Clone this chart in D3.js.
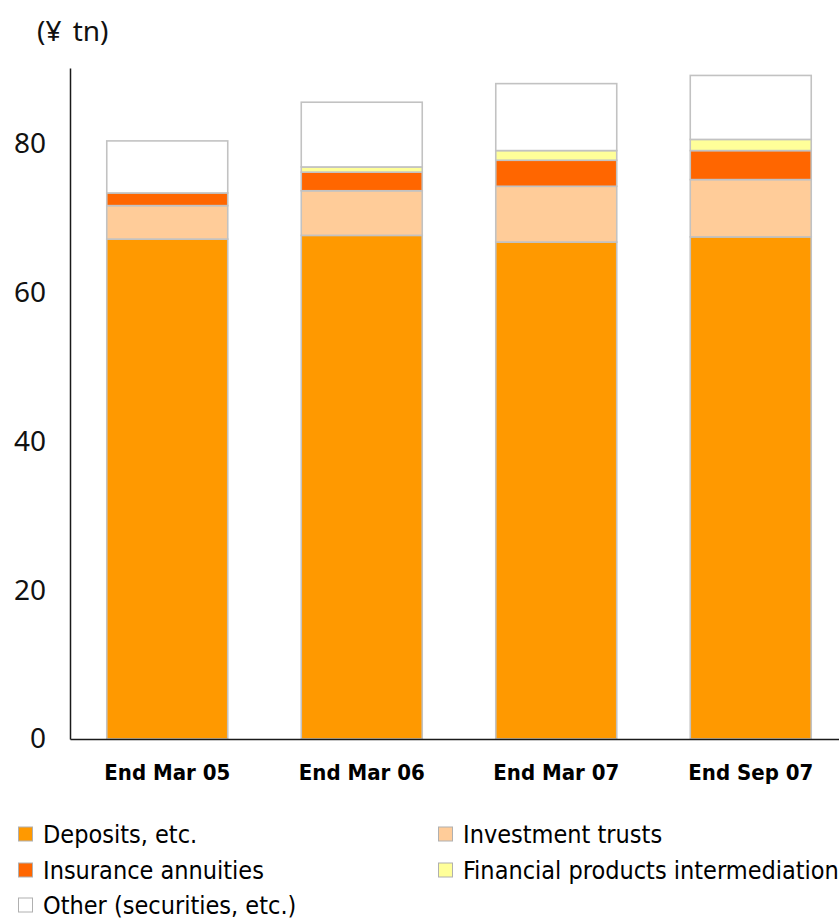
<!DOCTYPE html>
<html>
<head>
<meta charset="utf-8">
<script src="https://cdn.jsdelivr.net/npm/d3@7"></script>
<style>
  html, body { margin: 0; padding: 0; background: #fff; }
  svg { display: block; }
</style>
</head>
<body>
<svg id="chart" width="839" height="920"></svg>
<script>
// Balances by period, ¥ trillion
const categories = ["End Mar 05", "End Mar 06", "End Mar 07", "End Sep 07"];
const deposits = [67.2, 67.7, 66.8, 67.5];
const investmentTrusts = [4.5, 6.0, 7.5, 7.7];
const insuranceAnnuities = [1.7, 2.5, 3.5, 3.9];
const financialProducts = [0, 0.7, 1.3, 1.5];
const other = [7.0, 8.7, 9.0, 8.6];

const seriesNames = ["Deposits, etc.", "Investment trusts", "Insurance annuities",
                     "Financial products intermediation", "Other (securities, etc.)"];
const seriesColors = ["#FF9900", "#FFCC99", "#FF6600", "#FFFF99", "#FFFFFF"];
const yTicks = [0, 20, 40, 60, 80];

const seriesValues = [deposits, investmentTrusts, insuranceAnnuities, financialProducts, other];
const keys = seriesNames;
const rows = categories.map((c, i) => {
  const r = { category: c };
  keys.forEach((k, j) => { r[k] = seriesValues[j][i]; });
  return r;
});
const stacked = d3.stack().keys(keys)(rows);

const svg = d3.select("#chart");

const x = d3.scaleBand()
  .domain(categories)
  .range([70, 848])
  .paddingInner(0.378)
  .paddingOuter(0.189);

const y = d3.scaleLinear()
  .domain([0, 90.2])
  .range([739, 68]);

const color = d3.scaleOrdinal().domain(keys).range(seriesColors);

// Stacked bars
svg.append("g")
  .selectAll("g")
  .data(stacked)
  .join("g")
  .attr("fill", d => color(d.key))
  .selectAll("rect")
  .data(d => d.filter(s => s[1] - s[0] > 0))
  .join("rect")
  .attr("x", d => x(d.data.category))
  .attr("width", x.bandwidth())
  .attr("y", d => y(d[1]))
  .attr("height", d => y(d[0]) - y(d[1]))
  .attr("stroke", "#c2c2c2")
  .attr("stroke-width", 1.6);

// Y axis
const yAxis = svg.append("g")
  .attr("transform", "translate(70,0)")
  .call(d3.axisLeft(y).tickValues(yTicks).tickSize(0).tickSizeOuter(0).tickPadding(24));
yAxis.select(".domain").attr("stroke", "#1a1a1a").attr("stroke-width", 1.5);
yAxis.selectAll("text")
  .attr("font-family", "'Noto Sans', 'Open Sans', sans-serif")
  .attr("font-size", 28)
  .attr("fill", "#111");

// X axis
const xAxis = svg.append("g")
  .attr("transform", "translate(0,739)")
  .call(d3.axisBottom(x).tickSize(0).tickSizeOuter(0).tickPadding(25));
xAxis.select(".domain").attr("stroke", "#1a1a1a").attr("stroke-width", 1.5);
xAxis.selectAll("text")
  .attr("font-family", "'DejaVu Sans Condensed', 'DejaVu Sans', sans-serif")
  .attr("font-weight", "bold")
  .attr("font-size", 22)
  .attr("fill", "#000");

// Unit label
const unit = svg.append("text")
  .attr("x", 37)
  .attr("y", 41)
  .attr("font-family", "'Noto Sans', 'Open Sans', sans-serif")
  .attr("font-size", 28)
  .attr("fill", "#111");
unit.append("tspan").text("(¥");
unit.append("tspan").attr("dx", 4).text(" tn)");

// Legend: two columns, filled row by row
const legendCols = [18, 438];
const legendRowY = [834, 870, 905];
const legend = svg.append("g")
  .selectAll("g")
  .data(keys)
  .join("g")
  .attr("transform", (d, i) => `translate(${legendCols[i % 2]},${legendRowY[Math.floor(i / 2)]})`);

legend.append("rect")
  .attr("x", 0.5)
  .attr("y", -7)
  .attr("width", 14)
  .attr("height", 14)
  .attr("fill", d => color(d))
  .attr("stroke", "#b0b0b0")
  .attr("stroke-width", 1);

legend.append("text")
  .attr("x", 25)
  .attr("y", 0)
  .attr("dy", "0.34em")
  .attr("font-family", "'DejaVu Sans Condensed', 'DejaVu Sans', sans-serif")
  .attr("font-size", 25)
  .attr("fill", "#000")
  .text(d => d);
</script>
</body>
</html>
